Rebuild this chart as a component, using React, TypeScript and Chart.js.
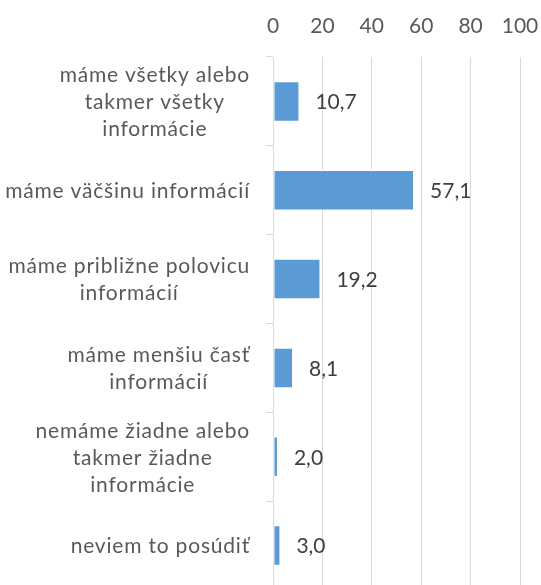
import React, { useEffect, useRef } from "react";
import { Chart, registerables } from "chart.js";

Chart.register(...registerables);

const categoryLines: string[][] = [
  ["máme všetky alebo", "takmer všetky", "informácie"],
  ["máme väčšinu informácií"],
  ["máme približne polovicu", "informácií"],
  ["máme menšiu časť", "informácií"],
  ["nemáme žiadne alebo", "takmer žiadne", "informácie"],
  ["neviem to posúdiť"],
];
const categories: string[] = categoryLines.map((l) => l.join(" "));
const values: number[] = [10.7, 57.1, 19.2, 8.1, 2.0, 3.0];
const xTicks: number[] = [0, 20, 40, 60, 80, 100];

const FONT = "Lato";
const FONT_SIZE = 21;
const LABEL_COLOR = "#595959";
const VALUE_COLOR = "#404040";
const GRID = "#d9d9d9";
const BAR = "#5B9BD5";

const labelPlugin = {
  id: "customLabels",
  afterDraw(chart: any) {
    const ctx = chart.ctx;
    const y = chart.scales.y;
    const x = chart.scales.x;
    ctx.save();
    ctx.font = `${FONT_SIZE}px ${FONT}`;
    ctx.textBaseline = "middle";
    // category labels
    ctx.fillStyle = LABEL_COLOR;
    ctx.textAlign = "center";
    (ctx as any).letterSpacing = "0.8px";
    const lh = 27;
    categoryLines.forEach((lines, i) => {
      const cy = y.getPixelForValue(i) + 1;
      const maxW = Math.max(...lines.map((l) => ctx.measureText(l).width));
      const cx = 250 - maxW / 2;
      const startY = cy - ((lines.length - 1) * lh) / 2;
      lines.forEach((l, j) => ctx.fillText(l, cx, startY + j * lh));
    });
    (ctx as any).letterSpacing = "0px";
    // value labels
    ctx.fillStyle = VALUE_COLOR;
    ctx.textAlign = "left";
    values.forEach((v, i) => {
      const px = x.getPixelForValue(v) + 16;
      const py = y.getPixelForValue(i) + 1;
      ctx.fillText(v.toFixed(1).replace(".", ","), px, py);
    });
    ctx.restore();
  },
};

export default function App() {
  const ref = useRef<HTMLCanvasElement | null>(null);
  useEffect(() => {
    if (!ref.current) return;
    const chart = new Chart(ref.current, {
      type: "bar",
      data: {
        labels: categories,
        datasets: [
          {
            data: values,
            backgroundColor: BAR,
            borderColor: "#ffffff",
            borderWidth: 1,
            borderSkipped: false,
            barPercentage: 0.455,
            categoryPercentage: 1,
          },
        ],
      },
      options: {
        indexAxis: "y",
        animation: false,
        responsive: false,
        devicePixelRatio: 1,
        layout: { padding: { top: 0, left: 0, right: 21, bottom: 0 } },
        plugins: {
          legend: { display: false },
          tooltip: { enabled: false },
          title: { display: false },
        },
        scales: {
          x: {
            position: "top",
            min: 0,
            max: 100,
            afterBuildTicks: (scale: any) => {
              scale.ticks = xTicks.map((v) => ({ value: v }));
            },
            afterFit: (scale: any) => {
              scale.height = 57;
              scale.paddingLeft = 0;
              scale.paddingRight = 0;
            },
            grid: {
              color: GRID,
              lineWidth: 1,
              drawTicks: false,
            },
            border: { display: false },
            ticks: {
              color: LABEL_COLOR,
              padding: 18,
              font: { family: FONT, size: FONT_SIZE },
              maxRotation: 0,
              autoSkip: false,
            },
          },
          y: {
            type: "category",
            offset: true,
            afterFit: (scale: any) => {
              scale.width = 273;
              scale.paddingTop = 0;
              scale.paddingBottom = 0;
            },
            grid: {
              offset: true,
              drawOnChartArea: false,
              drawTicks: true,
              tickLength: 7,
              color: GRID,
              lineWidth: 1,
            },
            border: { display: true, color: GRID, width: 1 },
            ticks: { display: false },
          },
        },
      },
      plugins: [labelPlugin],
    } as any);
    return () => chart.destroy();
  }, []);
  return (
    <div style={{ position: "fixed", left: 0, top: 0, width: 541, height: 590 }}>
      <canvas ref={ref} width={541} height={590} style={{ display: "block", width: 541, height: 590 }} />
    </div>
  );
}
